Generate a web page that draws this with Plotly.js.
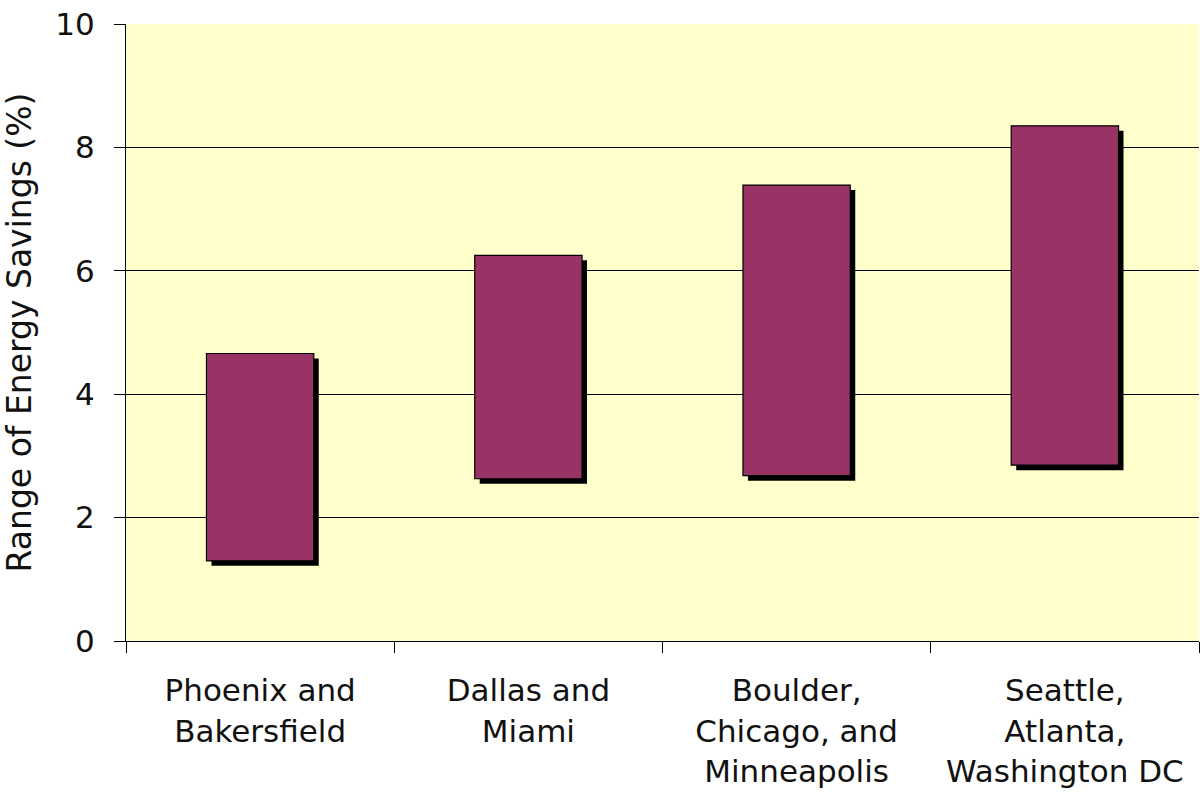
<!DOCTYPE html>
<html>
<head>
<meta charset="utf-8">
<script src="https://cdn.plot.ly/plotly-3.0.1.min.js"></script>
<style>html,body{margin:0;padding:0;background:#fff;}#chart{width:1200px;height:792px;}</style>
</head>
<body>
<div id="chart"></div>
<script>
const categories = ["Phoenix and<br>Bakersfield", "Dallas and<br>Miami", "Boulder,<br>Chicago, and<br>Minneapolis", "Seattle,<br>Atlanta,<br>Washington DC"];
const lowSavings = [1.30, 2.63, 2.68, 2.85];
const highSavings = [4.66, 6.25, 7.39, 8.35];
const yTicks = [0, 2, 4, 6, 8, 10];

const spans = highSavings.map((h, i) => h - lowSavings[i]);
const xIdx = categories.map((_, i) => i);
const shadowDy = 0.081;   // shadow drop in data units (~5px)
const shadowDx = 0.0186;  // shadow shift in category units (~5px)

const shadow = {
  type: 'bar', x: xIdx, y: spans, base: lowSavings.map(v => v - shadowDy),
  width: 0.4, offset: -0.2 + shadowDx,
  marker: {color: '#000000', line: {width: 0}},
  hoverinfo: 'skip', showlegend: false
};
const bars = {
  type: 'bar', x: xIdx, y: spans, base: lowSavings,
  width: 0.4, offset: -0.2,
  marker: {color: '#993366', line: {color: '#000000', width: 1.2}},
  showlegend: false
};

const xTickFont = {family: 'DejaVu Sans, Verdana, sans-serif', size: 31, color: '#111'};
const yTickFont = {family: 'DejaVu Sans, Verdana, sans-serif', size: 31, color: '#111'};
const titleFont = {family: 'DejaVu Sans, Verdana, sans-serif', size: 33, color: '#111'};
const layout = {
  width: 1200, height: 792,
  margin: {l: 126, r: 1, t: 24, b: 151, pad: 0},
  paper_bgcolor: '#ffffff', plot_bgcolor: '#ffffcc',
  barmode: 'overlay',
  font: xTickFont,
  xaxis: {
    type: 'linear', range: [-0.5, 3.5], tickmode: 'array', tickvals: xIdx, ticktext: categories,
    showgrid: false, zeroline: false, showline: true, linecolor: '#000', linewidth: 1,
    ticks: '', tickfont: xTickFont, ticklabelstandoff: 22, fixedrange: true
  },
  xaxis2: {
    overlaying: 'x', range: [-0.5, 3.5], tickmode: 'array', tickvals: [-0.5, 0.5, 1.5, 2.5, 3.5],
    ticktext: ['', '', '', '', ''], ticks: 'outside', ticklen: 11, tickcolor: '#000', tickwidth: 1,
    showgrid: false, zeroline: false, showline: false, side: 'bottom', anchor: 'y', fixedrange: true
  },
  yaxis: {
    range: [0, 10], tickmode: 'array', tickvals: yTicks, ticktext: yTicks.map(String),
    showgrid: true, gridcolor: '#000', gridwidth: 1, zeroline: false,
    showline: true, linecolor: '#000', linewidth: 1,
    ticks: 'outside', ticklen: 11, tickcolor: '#000', tickwidth: 1, tickfont: yTickFont,
    ticklabelstandoff: 13,
    title: {text: 'Range of Energy Savings (%)', font: titleFont, standoff: 28}
  },
  showlegend: false
};
const dummy = {type: 'scatter', x: [-0.5], y: [0], xaxis: 'x2', mode: 'markers', marker: {opacity: 0}, hoverinfo: 'skip'};
Plotly.newPlot('chart', [shadow, bars, dummy], layout, {displayModeBar: false, staticPlot: true});
</script>
</body>
</html>
